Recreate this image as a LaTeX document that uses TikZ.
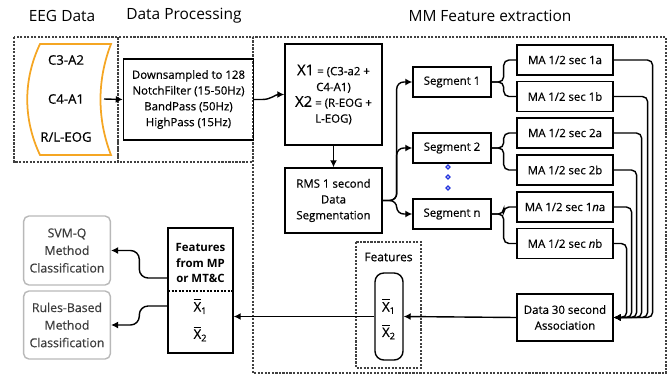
\documentclass[tikz,border=0pt]{standalone}
\usepackage{fontspec}
\setmainfont{Open Sans}
\newfontfamily\boxfont[FakeBold=0.5]{Open Sans}
\usepackage{tikz}
\usetikzlibrary{calc,arrows.meta,positioning}
\definecolor{eegorange}{HTML}{F5A623}
\definecolor{dotblue}{HTML}{2233DD}
\definecolor{softgray}{HTML}{9A9A9A}
\definecolor{textgray}{HTML}{3C3C3C}

\begin{document}
\begin{tikzpicture}[x=0.02cm, y=-0.02cm,
  box/.style={draw, line width=0.8pt, inner sep=1pt, align=center,
    font=\boxfont\fontsize{6.5}{9}\selectfont},
  grpbox/.style={draw=black!75, line width=0.6pt, dash pattern=on 1.2pt off 0.8pt},
  title/.style={font=\fontsize{8.8}{10}\selectfont},
  arr/.style={line width=0.8pt, -{Latex[length=4pt,width=4pt]}},
  link/.style={line width=0.8pt},
  lbl/.style={font=\boxfont\fontsize{7.5}{9}\selectfont, align=center},
  graybox/.style={draw=softgray!70, line width=0.8pt, rounded corners=3pt,
    text=textgray, align=center, font=\boxfont\fontsize{7}{10}\selectfont}]
  \useasboundingbox (0,0) rectangle (670,376);

  % Headings
  \node[title] (ttleeg) at (62,16) {EEG Data};
  \node[title] (ttlproc) at (184,16) {Data Processing};
  \node[title] (ttlmm) at (490,16) {MM Feature extraction};

  % Group frames
  \draw[grpbox] (14,37) rectangle (118,162);
  \draw[grpbox] (118,37) rectangle (253,162);
  \draw[grpbox] (253,37) rectangle (666,373);

  % EEG channels
  \draw[eegorange, line width=1pt] (40,44) -- (111,44)
    .. controls (97,80) and (97,119) .. (111,155) -- (40,155)
    .. controls (23,119) and (23,80) .. (40,44) -- cycle;
  \node[lbl] (chA) at (66,60) {C3-A2};
  \node[lbl] (chB) at (66,99) {C4-A1};
  \node[lbl] (chC) at (66,137) {R/L-EOG};
  \coordinate (eegout) at (104,99);

  % Pre-processing
  \node[box, minimum width=2.6cm, minimum height=1.62cm] (proc) at (188.5,99.5)
    {Downsampled to 128\\NotchFilter (15-50Hz)\\BandPass (50Hz)\\HighPass (15Hz)};
  \draw[arr] (eegout) -- (proc.west);

  % Channel combination and segmentation
  \node[box, minimum width=1.94cm, minimum height=2.02cm] (xbox) at (333.5,94.5)
    {{\fontsize{8.5}{9}\selectfont X1} = (C3-a2 +\\C4-A1)\\{\fontsize{8.5}{9}\selectfont X2} = (R-EOG +\\L-EOG)};
  \node[box, minimum width=1.94cm, minimum height=1.3cm] (rms) at (333.5,200.5)
    {RMS 1 second\\Data\\Segmentation};
  \draw[arr] (proc.east) -- ++(8,0) to[out=0,in=180] (xbox.west);
  \draw[arr] (xbox.south) -- (rms.north);

  \node[box, minimum width=1.56cm, minimum height=0.6cm] (seg1) at (452,82) {Segment 1};
  \node[box, minimum width=1.56cm, minimum height=0.6cm] (seg2) at (452,148) {Segment 2};
  \node[box, minimum width=1.56cm, minimum height=0.6cm] (segn) at (452,214) {Segment n};
  \foreach \y in {167,177,188}
    \draw[dotblue, line width=0.7pt] (448,\y) circle (1.1pt);
  \foreach \s in {seg1,seg2,segn}
    \draw[arr, rounded corners=4pt] (rms.east) -- ++(14,0) |- (\s.west);

  % Moving averages
  \node[box, minimum width=1.92cm, minimum height=0.6cm] (ma1a) at (565,60) {MA 1/2 sec 1a};
  \node[box, minimum width=1.92cm, minimum height=0.6cm] (ma1b) at (565,96.5) {MA 1/2 sec 1b};
  \node[box, minimum width=1.92cm, minimum height=0.6cm] (ma2a) at (565,133) {MA 1/2 sec 2a};
  \node[box, minimum width=1.92cm, minimum height=0.6cm] (ma2b) at (565,170) {MA 1/2 sec 2b};
  \node[box, minimum width=1.92cm, minimum height=0.6cm] (mana) at (565,207) {MA 1/2 sec 1\textit{n}a};
  \node[box, minimum width=1.92cm, minimum height=0.6cm] (manb) at (565,243.5) {MA 1/2 sec \textit{n}b};
  \draw[link, rounded corners=3pt] (seg1.east) -- ++(12,0) |- (ma1a.west);
  \draw[link, rounded corners=3pt] (seg1.east) -- ++(12,0) |- (ma1b.west);
  \draw[link, rounded corners=3pt] (seg2.east) -- ++(12,0) |- (ma2a.west);
  \draw[link, rounded corners=3pt] (seg2.east) -- ++(12,0) |- (ma2b.west);
  \draw[link, rounded corners=3pt] (segn.east) -- ++(12,0) |- (mana.west);
  \draw[link, rounded corners=3pt] (segn.east) -- ++(12,0) |- (manb.west);

  % 30 second association
  \node[box, minimum width=1.92cm, minimum height=0.94cm] (assoc) at (565,317.5)
    {Data 30 second\\Association};
  \draw[arr, rounded corners=3pt] (ma1a.east) -- ++(39,0) |- (assoc.east);
  \draw[arr, rounded corners=3pt] (ma1b.east) -- ++(34,0) |- (assoc.east);
  \draw[arr, rounded corners=3pt] (ma2a.east) -- ++(28,0) |- (assoc.east);
  \draw[arr, rounded corners=3pt] (ma2b.east) -- ++(23,0) |- (assoc.east);
  \draw[arr, rounded corners=3pt] (mana.east) -- ++(18,0) |- (assoc.east);
  \draw[arr, rounded corners=3pt] (manb.east) -- ++(13,0) |- (assoc.east);

  % Feature vector
  \draw[grpbox] (356,242) rectangle (421,368);
  \node[font=\boxfont\fontsize{6.8}{8}\selectfont] (feattl) at (388.5,257) {Features};
  \node[draw, line width=0.8pt, rounded corners=5pt, minimum width=0.56cm,
    minimum height=1.74cm] (featbox) at (389,316.5) {};
  \node[lbl, font=\boxfont\fontsize{7.5}{14.5}\selectfont] (fxs) at (389,319)
    {$\overline{\mbox{X}}$\textsubscript{1}\\$\overline{\mbox{X}}$\textsubscript{2}};
  \draw[arr] (assoc.west) -- (featbox.east);

  % Feature table and classifiers
  \node[box, minimum width=1.3cm, minimum height=2.5cm] (mpbox) at (200.5,290.5) {};
  \node[font=\bfseries\fontsize{6.5}{8.8}\selectfont, align=center] (mptxt) at (200.5,263)
    {Features\\from MP\\or MT\&C};
  \draw[link, dash pattern=on 1.2pt off 0.8pt] (168,291) -- (233,291);
  \node[lbl, font=\boxfont\fontsize{7.5}{15.5}\selectfont] (mxs) at (200.5,320)
    {$\overline{\mbox{X}}$\textsubscript{1}\\$\overline{\mbox{X}}$\textsubscript{2}};
  \draw[arr] (featbox.west) -- (mpbox.east |- featbox.west);

  \node[graybox, minimum width=1.72cm, minimum height=1.38cm] (svm) at (67,250.5)
    {SVM-Q\\Method\\Classification};
  \node[graybox, minimum width=1.72cm, minimum height=1.36cm] (rules) at (67,325)
    {Rules-Based\\Method\\Classification};
  \draw[arr, rounded corners=5pt] ($(mpbox.west)+(0,-12.5)$) -- ++(-28,0) |- (svm.east);
  \draw[arr, rounded corners=5pt] ($(mpbox.west)+(0,15.5)$) -- ++(-28,0) |- (rules.east);
\end{tikzpicture}
\end{document}
